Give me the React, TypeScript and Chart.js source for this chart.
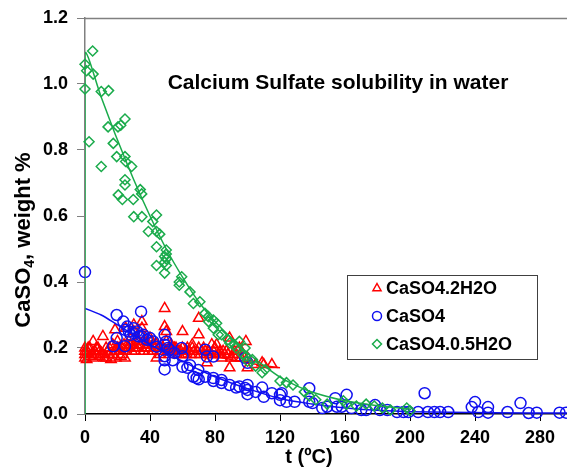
import React, { useEffect, useRef } from 'react';
import { Chart, registerables } from 'chart.js';

Chart.register(...registerables);

const FONT = '"Liberation Sans", Arial, sans-serif';

const TITLE = 'Calcium Sulfate solubility in water';
const X_TITLE = 't (ºC)';
const LEGEND_LABELS = ['CaSO4.2H2O', 'CaSO4', 'CaSO4.0.5H2O'];

const X_TICKS = [0, 40, 80, 120, 160, 200, 240, 280];
const Y_TICKS = [0, 0.2, 0.4, 0.6, 0.8, 1.0, 1.2];

// CaSO4.2H2O (gypsum) – red triangles
const redT = [0, 0, 0, 0, 1, 2, 3, 3, 5, 5, 6, 7, 8, 9, 10, 11, 12, 13, 13, 14, 15, 16, 17, 18.5, 18, 19, 20, 20, 21, 22, 23, 24.6, 24, 25, 25, 26, 27, 28, 29, 30, 30, 30, 31, 32, 33, 34, 35, 35, 35, 36, 37, 38, 39, 40, 40, 41, 42, 43, 44, 45, 46, 47, 48, 49, 49, 50, 50, 51, 52, 53, 54, 55, 56, 57, 58, 59, 60, 60, 61, 62, 63, 64, 65, 66, 67, 68, 69, 70, 70, 70, 71, 72, 73, 74, 75, 75, 76, 77, 78, 79, 80, 81, 82, 83, 84, 85, 86, 87, 88, 89, 89, 90, 91, 92, 93, 94, 95, 96, 97, 98, 99, 100, 100, 105, 109, 110, 115, 2, 4, 7, 9, 11, 15, 17, 21, 23, 26, 28, 31, 33, 36, 38, 42, 44, 46, 52, 55, 58, 62, 66, 72, 78, 84, 92];
const redW = [0.17, 0.18, 0.19, 0.2, 0.165, 0.185, 0.175, 0.2, 0.22, 0.17, 0.19, 0.18, 0.2, 0.175, 0.185, 0.235, 0.17, 0.17, 0.2, 0.19, 0.18, 0.165, 0.18, 0.255, 0.19, 0.17, 0.2, 0.22, 0.19, 0.175, 0.2, 0.17, 0.21, 0.26, 0.19, 0.21, 0.2, 0.23, 0.19, 0.21, 0.25, 0.27, 0.2, 0.22, 0.2, 0.21, 0.28, 0.26, 0.24, 0.22, 0.2, 0.21, 0.19, 0.2, 0.23, 0.22, 0.21, 0.2, 0.17, 0.2, 0.19, 0.21, 0.2, 0.32, 0.265, 0.25, 0.22, 0.19, 0.2, 0.21, 0.2, 0.19, 0.2, 0.19, 0.18, 0.19, 0.25, 0.2, 0.18, 0.19, 0.2, 0.19, 0.18, 0.21, 0.19, 0.18, 0.19, 0.29, 0.24, 0.2, 0.18, 0.19, 0.2, 0.19, 0.155, 0.18, 0.19, 0.18, 0.21, 0.19, 0.2, 0.21, 0.18, 0.19, 0.18, 0.19, 0.18, 0.19, 0.18, 0.23, 0.14, 0.17, 0.18, 0.19, 0.17, 0.19, 0.2, 0.17, 0.18, 0.17, 0.22, 0.17, 0.14, 0.15, 0.155, 0.15, 0.15, 0.2, 0.18, 0.2, 0.19, 0.18, 0.2, 0.21, 0.2, 0.18, 0.2, 0.21, 0.19, 0.22, 0.19, 0.2, 0.19, 0.21, 0.18, 0.18, 0.2, 0.19, 0.18, 0.2, 0.19, 0.18, 0.17, 0.18];

// CaSO4 (anhydrite) – blue circles
const blueT = [0, 19.5, 34.5, 17.4, 19.5, 24.6, 23.6, 24.6, 26, 27, 28, 30, 30, 32, 33, 35, 36, 38, 40, 42, 44, 49, 49, 49, 49, 49, 50, 51, 52, 54, 55, 59.5, 60, 60, 63, 64.6, 66.7, 68.7, 69.7, 70, 74, 75, 74, 79, 79, 79, 84, 84, 89, 93, 95, 98.5, 98.5, 100, 100, 100, 100, 105, 109, 110, 115, 120, 120, 121, 124, 129, 138, 138, 140, 146, 149, 154, 155, 158, 161, 164, 170, 173, 178.5, 181.5, 186, 192, 196, 199, 205, 209, 211, 215, 218.5, 223.5, 238, 240, 242, 248, 248, 260, 268, 273, 278, 292, 296];
const blueW = [0.43, 0.3, 0.31, 0.205, 0.23, 0.205, 0.28, 0.255, 0.265, 0.25, 0.24, 0.26, 0.245, 0.25, 0.235, 0.235, 0.24, 0.225, 0.23, 0.22, 0.204, 0.24, 0.21, 0.175, 0.163, 0.135, 0.22, 0.2, 0.195, 0.163, 0.185, 0.2, 0.175, 0.143, 0.14, 0.148, 0.113, 0.109, 0.133, 0.105, 0.195, 0.174, 0.113, 0.174, 0.109, 0.1, 0.103, 0.094, 0.088, 0.08, 0.083, 0.079, 0.17, 0.088, 0.073, 0.06, 0.155, 0.067, 0.08, 0.052, 0.063, 0.058, 0.042, 0.063, 0.037, 0.037, 0.078, 0.037, 0.033, 0.018, 0.022, 0.048, 0.022, 0.022, 0.058, 0.018, 0.012, 0.012, 0.027, 0.012, 0.012, 0.006, 0.006, 0.006, 0.006, 0.063, 0.006, 0.006, 0.006, 0.006, 0.021, 0.036, 0.006, 0.021, 0.004, 0.006, 0.033, 0.003, 0.004, 0.004, 0.004];

// CaSO4.0.5H2O (hemihydrate) – green diamonds
const greenT = [0, 1, 4.7, 5, 0, 10, 14.5, 2.5, 10, 14.2, 20.3, 22, 24.6, 17.4, 19.5, 24.6, 25, 28.7, 24.6, 24.6, 34, 34.9, 20.5, 23, 29.7, 30, 35, 41.7, 44, 39, 44, 46, 44, 50, 49, 49, 44, 50, 49, 50, 50, 59.5, 58, 58, 64.6, 70.7, 66.7, 73.8, 75.9, 76, 79, 81, 79, 82, 84, 88, 89, 92, 95, 93, 98.5, 97, 99, 100, 103, 105, 111, 109, 120, 124, 128, 135, 138, 142, 149, 159, 161, 167, 173, 178, 183, 188, 198, 200];
const greenW = [1.06, 1.04, 1.1, 1.03, 0.985, 0.977, 0.98, 0.825, 0.75, 0.87, 0.87, 0.875, 0.894, 0.82, 0.78, 0.78, 0.765, 0.75, 0.71, 0.694, 0.68, 0.667, 0.664, 0.65, 0.65, 0.598, 0.598, 0.583, 0.603, 0.553, 0.553, 0.545, 0.507, 0.497, 0.477, 0.46, 0.45, 0.45, 0.427, 0.47, 0.485, 0.416, 0.4, 0.39, 0.37, 0.34, 0.335, 0.305, 0.295, 0.28, 0.285, 0.275, 0.26, 0.24, 0.24, 0.225, 0.215, 0.21, 0.22, 0.2, 0.2, 0.18, 0.175, 0.16, 0.165, 0.145, 0.135, 0.125, 0.1, 0.095, 0.088, 0.067, 0.055, 0.043, 0.03, 0.04, 0.03, 0.024, 0.03, 0.024, 0.018, 0.012, 0.018, 0.01];

// Fitted curves
const redFitT = [0, 10, 20, 30, 40, 50, 60, 70, 80, 90, 100, 110, 120];
const redFitW = [0.175, 0.185, 0.195, 0.2, 0.2, 0.198, 0.192, 0.185, 0.175, 0.165, 0.155, 0.147, 0.14];
const blueFitT = [0, 10, 20, 30, 40, 50, 60, 70, 80, 90, 100, 120, 140, 160, 180, 200, 250, 300];
const blueFitW = [0.32, 0.3, 0.27, 0.24, 0.21, 0.185, 0.16, 0.135, 0.113, 0.094, 0.077, 0.047, 0.03, 0.018, 0.011, 0.007, 0.004, 0.003];
const greenFitT = [0, 0, 10, 20, 30, 40, 50, 60, 70, 80, 90, 100, 110, 120, 130, 140, 160, 180, 200];
const greenFitW = [0, 1.09, 0.96, 0.83, 0.71, 0.6, 0.5, 0.415, 0.34, 0.28, 0.23, 0.185, 0.147, 0.112, 0.086, 0.066, 0.04, 0.025, 0.015];

const RED = '#ff0000';
const BLUE = '#1010f0';
const GREEN = '#1aab4b';

const xy = (t: number[], w: number[]) => t.map((x, i) => ({ x, y: w[i] }));

function marker(ctx: CanvasRenderingContext2D, kind: string, x: number, y: number, r: number, color: string) {
  ctx.save();
  ctx.strokeStyle = color;
  ctx.lineWidth = 1.5;
  ctx.beginPath();
  if (kind === 'triangle') {
    ctx.moveTo(x, y - r);
    ctx.lineTo(x + r * 0.9, y + r * 0.6);
    ctx.lineTo(x - r * 0.9, y + r * 0.6);
    ctx.closePath();
  } else if (kind === 'circle') {
    ctx.arc(x, y, r, 0, Math.PI * 2);
  } else {
    ctx.moveTo(x, y - r);
    ctx.lineTo(x + r, y);
    ctx.lineTo(x, y + r);
    ctx.lineTo(x - r, y);
    ctx.closePath();
  }
  ctx.stroke();
  ctx.restore();
}

export default function App() {
  const ref = useRef<HTMLCanvasElement>(null);

  useEffect(() => {
    document.body.style.margin = '0';
    const overlay = {
      id: 'overlay',
      afterDraw(chart: any) {
        const ctx: CanvasRenderingContext2D = chart.ctx;
        const area = chart.chartArea;
        ctx.save();
        // top border
        ctx.strokeStyle = '#808080';
        ctx.lineWidth = 1.5;
        ctx.beginPath();
        ctx.moveTo(area.left, area.top + 0.5);
        ctx.lineTo(area.right, area.top + 0.5);
        ctx.stroke();

        // in-plot title
        ctx.fillStyle = '#000';
        ctx.font = `bold 21px ${FONT}`;
        ctx.textAlign = 'center';
        ctx.textBaseline = 'middle';
        ctx.fillText(TITLE, 338, 83);

        // x title
        ctx.font = `bold 20px ${FONT}`;
        ctx.fillText(X_TITLE, 309, 457);

        // y title with subscript
        ctx.save();
        ctx.translate(24, 240);
        ctx.rotate(-Math.PI / 2);
        ctx.textAlign = 'left';
        const big = `bold 22px ${FONT}`;
        const small = `bold 14px ${FONT}`;
        ctx.font = big;
        const w1 = ctx.measureText('CaSO').width;
        const w3 = ctx.measureText(', weight %').width;
        ctx.font = small;
        const w2 = ctx.measureText('4').width;
        let x = -(w1 + w2 + w3) / 2;
        ctx.font = big;
        ctx.fillText('CaSO', x, 0);
        x += w1;
        ctx.font = small;
        ctx.fillText('4', x, 6);
        x += w2;
        ctx.font = big;
        ctx.fillText(', weight %', x, 0);
        ctx.restore();

        // legend
        const lx = 347, ly = 275, lw = 190, lh = 84;
        ctx.fillStyle = '#fff';
        ctx.fillRect(lx, ly, lw, lh);
        ctx.strokeStyle = '#404040';
        ctx.lineWidth = 1;
        ctx.strokeRect(lx + 0.5, ly + 0.5, lw, lh);
        const kinds = ['triangle', 'circle', 'diamond'];
        const cols = [RED, BLUE, GREEN];
        const rows = [288, 316, 344];
        ctx.font = `bold 18px ${FONT}`;
        ctx.textAlign = 'left';
        ctx.textBaseline = 'middle';
        for (let i = 0; i < 3; i++) {
          marker(ctx, kinds[i], 377, rows[i], 4.5, cols[i]);
          ctx.fillStyle = '#000';
          ctx.fillText(LEGEND_LABELS[i], 386, rows[i] + 1);
        }
        ctx.restore();
      },
    };

    const tickFont = { family: FONT, size: 18, weight: 'bold' as const };

    const chart = new Chart(ref.current as HTMLCanvasElement, {
      type: 'scatter',
      data: {
        datasets: [
          {
            label: 'CaSO4.0.5H2O',
            data: xy(greenT, greenW),
            pointStyle: 'rectRot',
            pointRadius: 5,
            borderColor: GREEN,
            backgroundColor: 'rgba(0,0,0,0)',
            borderWidth: 1.5,
            clip: false,
          },
          {
            label: 'fit 0.5H2O',
            data: xy(greenFitT, greenFitW),
            showLine: true,
            pointRadius: 0,
            borderColor: GREEN,
            borderWidth: 1.5,
            tension: 0.3,
          },
          {
            label: 'CaSO4',
            data: xy(blueT, blueW),
            pointStyle: 'circle',
            pointRadius: 5.5,
            borderColor: BLUE,
            backgroundColor: 'rgba(0,0,0,0)',
            borderWidth: 1.5,
            clip: false,
          },
          {
            label: 'fit CaSO4',
            data: xy(blueFitT, blueFitW),
            showLine: true,
            pointRadius: 0,
            borderColor: BLUE,
            borderWidth: 1.5,
            tension: 0.3,
          },
          {
            label: 'CaSO4.2H2O',
            data: xy(redT, redW),
            pointStyle: 'triangle',
            pointRadius: 6,
            borderColor: RED,
            backgroundColor: 'rgba(0,0,0,0)',
            borderWidth: 1.5,
            clip: false,
          },
          {
            label: 'fit 2H2O',
            data: xy(redFitT, redFitW),
            showLine: true,
            pointRadius: 0,
            borderColor: RED,
            borderWidth: 1.5,
            tension: 0.3,
          },
        ] as any,
      },
      options: {
        responsive: false,
        animation: false,
        devicePixelRatio: 1,
        layout: { autoPadding: false, padding: { top: 18, left: 0, right: 0, bottom: 0 } },
        plugins: { legend: { display: false }, tooltip: { enabled: false }, title: { display: false } },
        scales: {
          x: {
            type: 'linear',
            min: 0,
            max: 296.6,
            afterBuildTicks: (s: any) => {
              s.ticks = X_TICKS.map((v) => ({ value: v }));
            },
            afterFit: (s: any) => {
              s.height = 59;
              s.paddingLeft = 0;
              s.paddingRight = 0;
            },
            ticks: { font: tickFont, color: '#000', padding: 6, maxRotation: 0, autoSkip: false },
            grid: { drawOnChartArea: false, drawTicks: true, tickLength: 7, color: '#000' },
            border: { display: true, color: '#000', width: 1.5 },
          },
          y: {
            type: 'linear',
            min: 0,
            max: 1.2,
            afterBuildTicks: (s: any) => {
              s.ticks = Y_TICKS.map((v) => ({ value: v }));
            },
            afterFit: (s: any) => {
              s.width = 85;
              s.paddingTop = 0;
              s.paddingBottom = 0;
            },
            ticks: {
              font: tickFont,
              color: '#000',
              padding: 9,
              callback: (v: any) => Number(v).toFixed(1),
            },
            grid: { drawOnChartArea: false, drawTicks: true, tickLength: 8, color: '#808080' },
            border: { display: true, color: '#808080', width: 1.5 },
          },
        },
      } as any,
      plugins: [overlay],
    });
    return () => chart.destroy();
  }, []);

  return (
    <div style={{ position: 'fixed', left: 0, top: 0, width: 567, height: 473, background: '#fff' }}>
      <canvas ref={ref} width={567} height={473} style={{ width: 567, height: 473, display: 'block' }} />
    </div>
  );
}
